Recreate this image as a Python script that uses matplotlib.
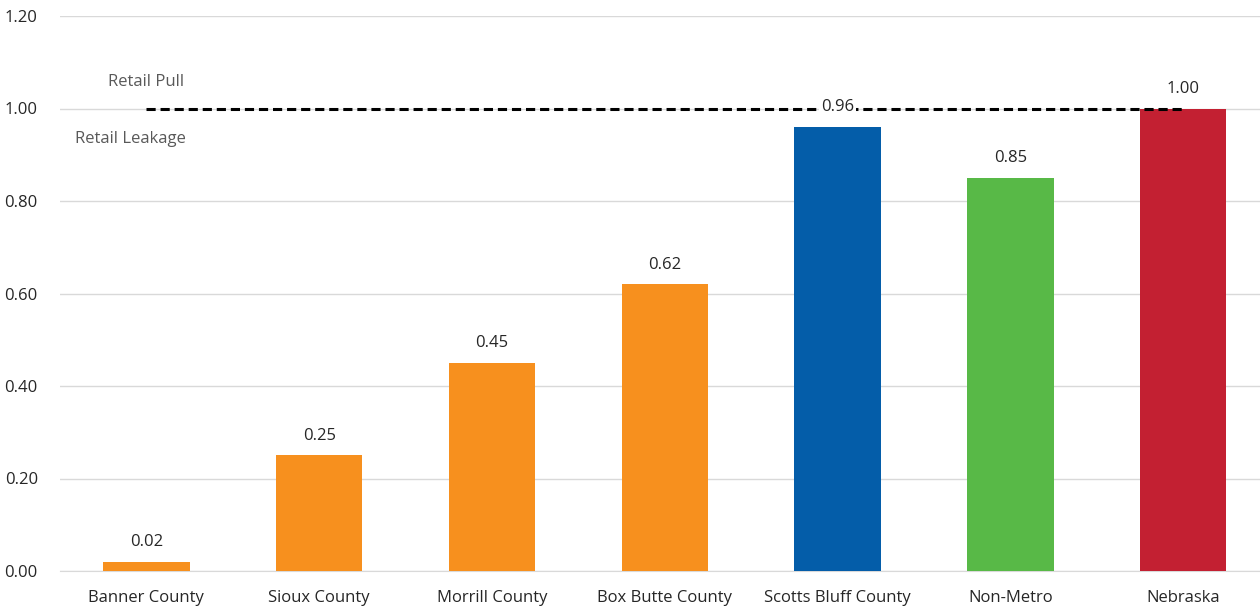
import matplotlib
matplotlib.use("Agg")
import matplotlib.pyplot as plt

categories = ["Banner County", "Sioux County", "Morrill County", "Box Butte County",
              "Scotts Bluff County", "Non-Metro", "Nebraska"]
values = [0.02, 0.25, 0.45, 0.62, 0.96, 0.85, 1.00]
colors = ["#F7901E", "#F7901E", "#F7901E", "#F7901E", "#045DA9", "#58B947", "#C32032"]
yticks = [0.0, 0.2, 0.4, 0.6, 0.8, 1.0, 1.2]

plt.rcParams['font.family'] = ['Open Sans', 'DejaVu Sans']

fig = plt.figure(figsize=(12.6, 6.06), dpi=100)
W, H = 1260, 606
ax = fig.add_axes([60 / W, 35 / H, (1269.5 - 60) / W, (571 - 16) / H])

x = list(range(len(categories)))
ax.bar(x, values, width=0.5, color=colors, zorder=3)

# retail pull / leakage threshold
ax.plot([0, 6], [1.0, 1.0], color="black", linestyle=(0, (3, 1.6)), linewidth=2.2, zorder=4)

for xi, v in zip(x, values):
    ax.text(xi, v + 0.025, f"{v:.2f}", ha="center", va="bottom", fontsize=12,
            color="#262626", zorder=5,
            bbox=dict(facecolor="white", edgecolor="none", pad=1.5) if xi == 4 else None)

ax.text(0.0, 1.057, "Retail Pull", ha="center", va="center", fontsize=12, color="#595959")
ax.text(-0.09, 0.933, "Retail Leakage", ha="center", va="center", fontsize=12, color="#595959")

ax.set_xlim(-0.5, 6.5)
ax.set_ylim(0, 1.2)
ax.set_yticks(yticks)
ax.set_yticklabels([f"{t:.2f}" for t in yticks], fontsize=12, color="#262626")
ax.set_xticks(x)
ax.set_xticklabels(categories, fontsize=12, color="#262626")
ax.tick_params(length=0)
ax.tick_params(axis="x", pad=14)
ax.tick_params(axis="y", pad=16)
ax.grid(axis="y", color="#D9D9D9", linewidth=1, zorder=0)
for s in ["top", "right", "left"]:
    ax.spines[s].set_visible(False)
ax.spines["bottom"].set_color("#D9D9D9")

fig.savefig("out.png", dpi=100)
